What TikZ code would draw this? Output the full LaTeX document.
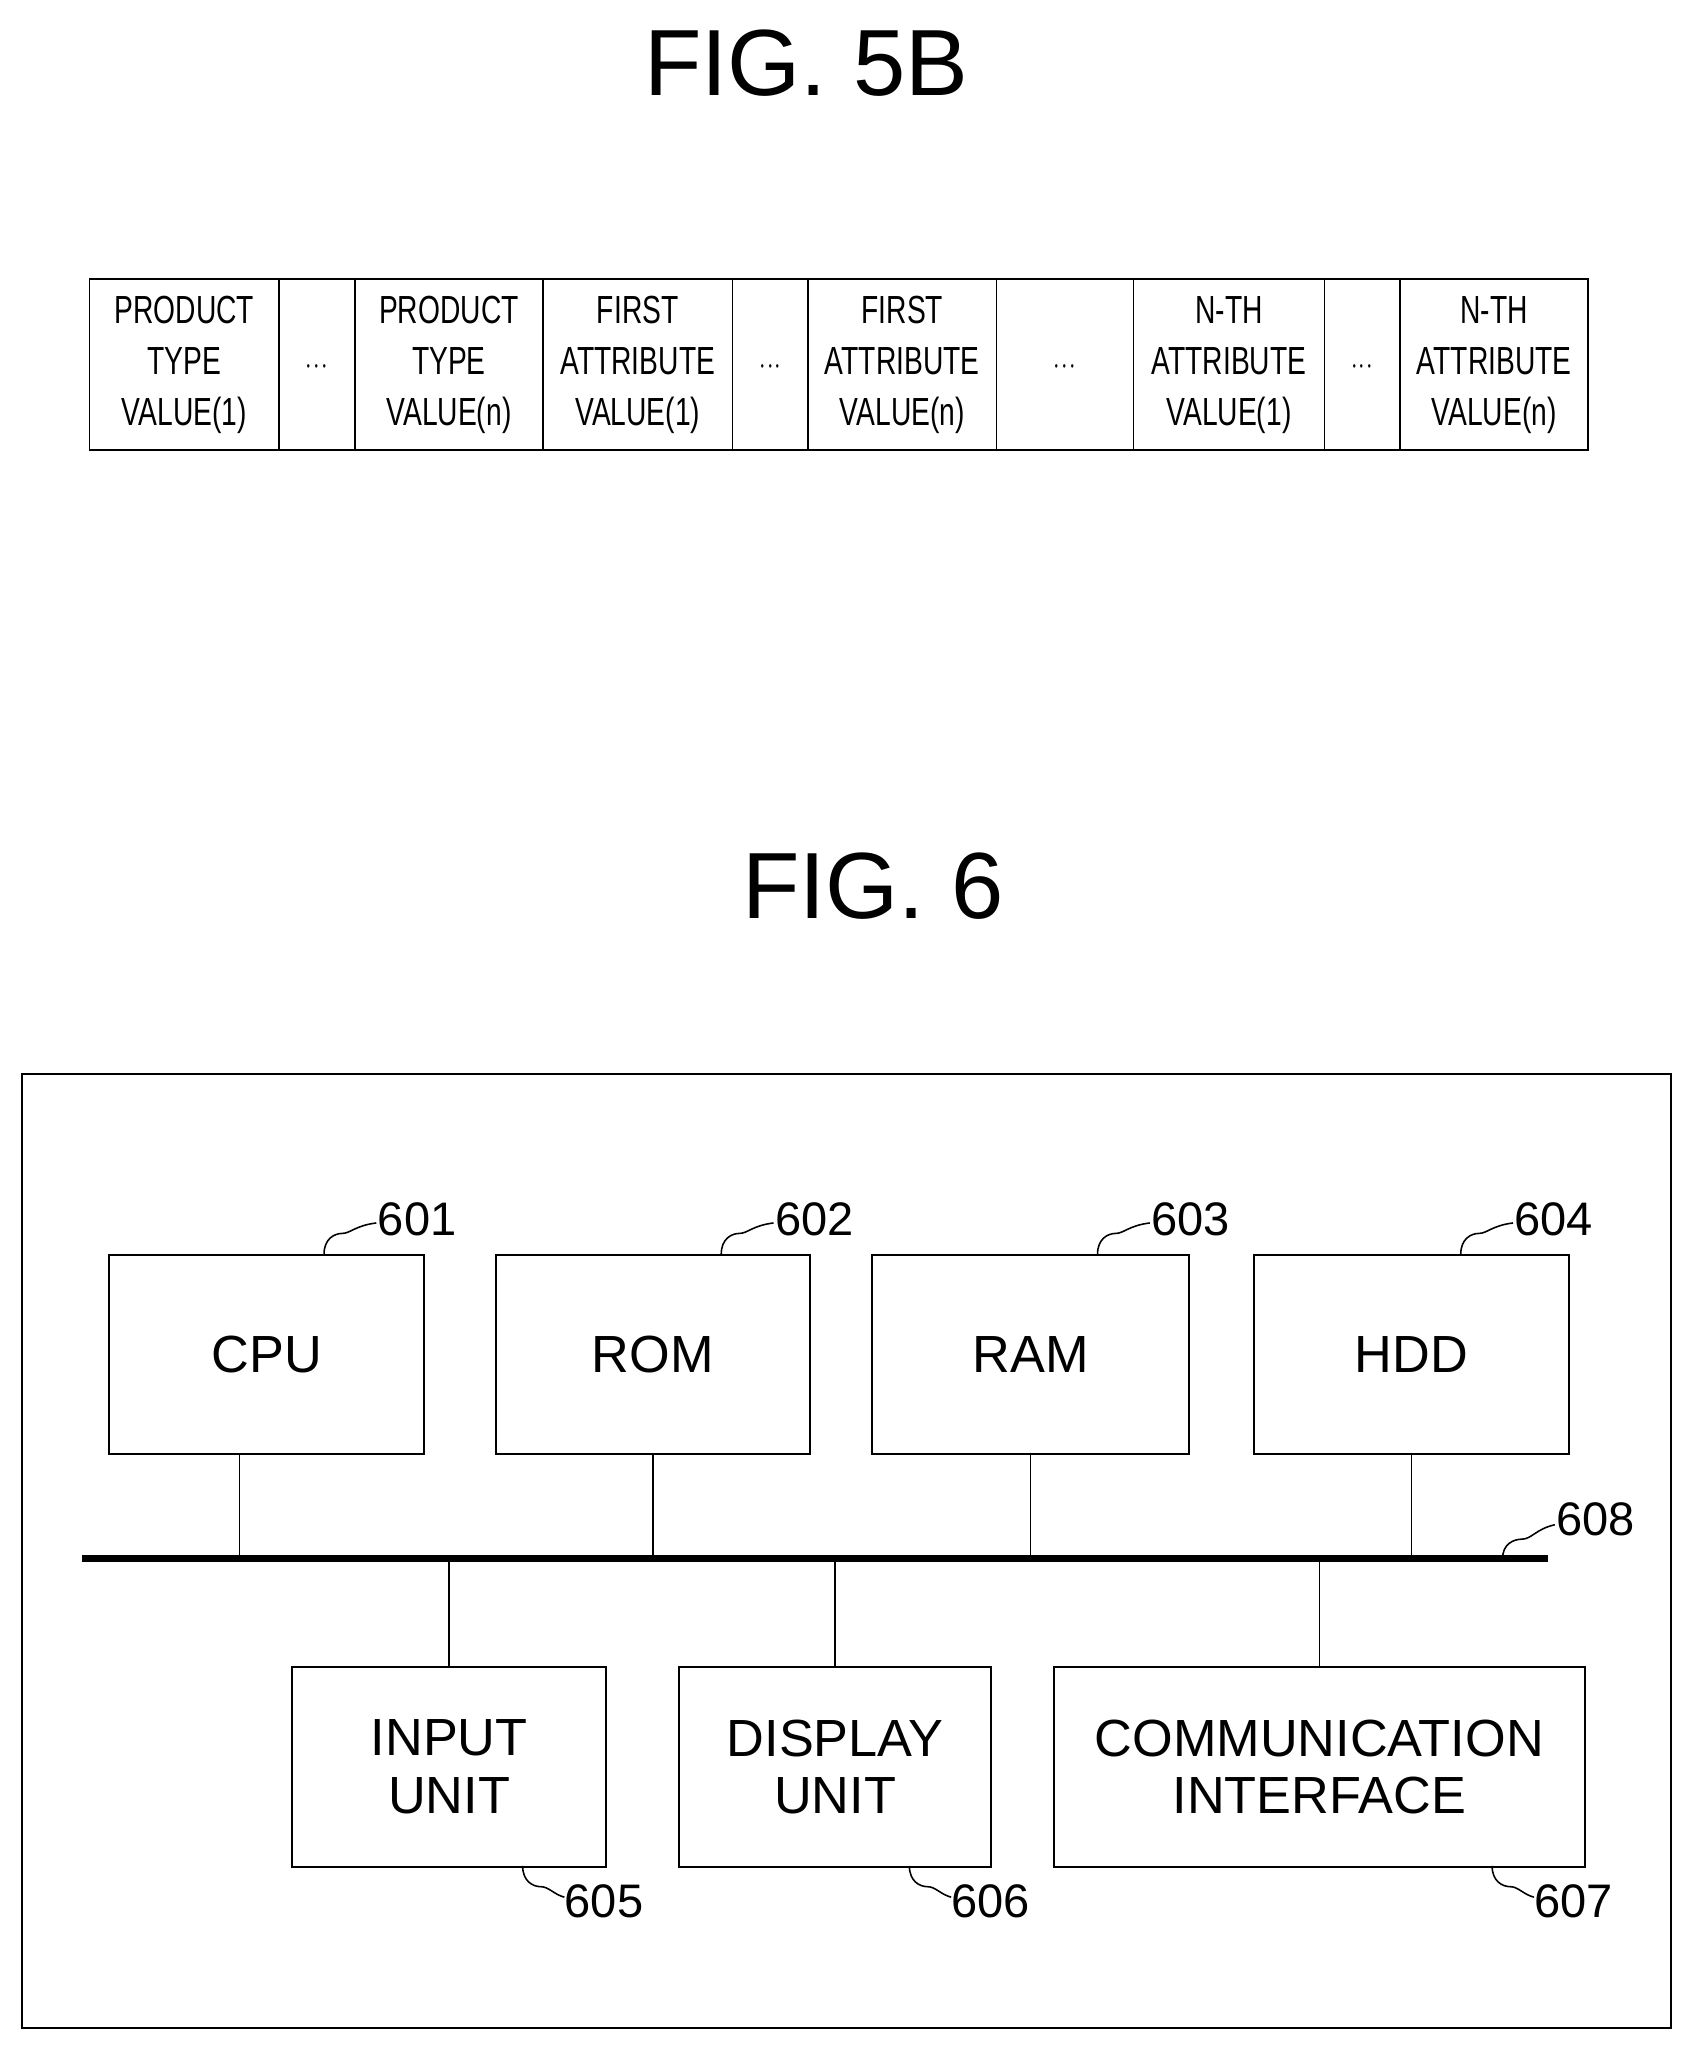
\documentclass[tikz,border=0pt]{standalone}
\usepackage{fontspec}
\setmainfont{Liberation Sans}
\usepackage{graphicx}
\begin{document}
\begin{tikzpicture}[x=1pt,y=-1pt,
 cell/.style={draw,line width=1.2pt,minimum height=131pt,inner sep=0pt,anchor=north west,align=center,font=\fontsize{30}{39}\selectfont},
 blk/.style={draw,line width=1.5pt,inner sep=0pt,anchor=north west,align=center,font=\fontsize{40}{44}\selectfont},
 wire/.style={line width=1.2pt},
 sq/.style={line width=1.2pt},
 lbl/.style={font=\fontsize{36}{40}\selectfont,anchor=west,inner sep=1pt}]
\useasboundingbox (0,0) rectangle (1296,1569);
\node[font=\fontsize{72}{72}\selectfont] (t5) at (617,48) {FIG. 5B};
\node[font=\fontsize{72}{72}\selectfont] (t6) at (668,678) {FIG. 6};
% table
\def\cellT#1#2#3#4{\node[cell,minimum width=#3pt] (#1) at (#2,213) {\scalebox{0.72}[1]{\begin{tabular}{@{}c@{}}#4\end{tabular}}};}
\cellT{c1}{68}{145}{PRODUCT\\TYPE\\VALUE(1)}
\cellT{c2}{213}{58}{$\cdot\!\cdot\!\cdot$}
\cellT{c3}{271}{144}{PRODUCT\\TYPE\\VALUE(n)}
\cellT{c4}{415}{145}{FIRST\\ATTRIBUTE\\VALUE(1)}
\cellT{c5}{560}{58}{$\cdot\!\cdot\!\cdot$}
\cellT{c6}{618}{144}{FIRST\\ATTRIBUTE\\VALUE(n)}
\cellT{c7}{762}{105}{$\cdot\!\cdot\!\cdot$}
\cellT{c8}{867}{146}{N-TH\\ATTRIBUTE\\VALUE(1)}
\cellT{c9}{1013}{58}{$\cdot\!\cdot\!\cdot$}
\cellT{c10}{1071}{144}{N-TH\\ATTRIBUTE\\VALUE(n)}
% fig 6
\draw[line width=1.5pt] (17,822) rectangle (1279,1552);
\node[blk,minimum width=241pt,minimum height=152pt] (cpu) at (83,960) {CPU};
\node[blk,minimum width=240pt,minimum height=152pt] (rom) at (379,960) {ROM};
\node[blk,minimum width=242pt,minimum height=152pt] (ram) at (667,960) {RAM};
\node[blk,minimum width=241pt,minimum height=152pt] (hdd) at (959,960) {HDD};
\node[blk,minimum width=240pt,minimum height=153pt] (inp) at (223,1275) {INPUT\\UNIT};
\node[blk,minimum width=239pt,minimum height=153pt] (dsp) at (519,1275) {DISPLAY\\UNIT};
\node[blk,minimum width=406pt,minimum height=153pt] (com) at (806,1275) {COMMUNICATION\\INTERFACE};
\coordinate (bl) at (63,1193); \coordinate (br) at (1185,1193);
\draw[line width=5pt] (bl) -- (br);
\draw[wire] (cpu.south) ++(-21,0) -- ++(0,81);
\draw[wire] (rom.south) -- ++(0,81);
\draw[wire] (ram.south) -- ++(0,81);
\draw[wire] (hdd.south) -- ++(0,81);
\draw[wire] (inp.north) -- ++(0,-82);
\draw[wire] (dsp.north) -- ++(0,-82);
\draw[wire] (com.north) -- ++(0,-82);
% labels
\foreach \n/\x/\t in {cpu/248/601,rom/552/602,ram/840/603,hdd/1118/604}{
 \draw[sq] (\x,960) .. controls (\x,948) and (\x+8,944) .. (\x+14,944) .. controls (\x+20,944) and (\x+24,938) .. (\x+40,936);
 \node[lbl] at (\x+40,933) {\t};}
\draw[sq] (1150,1193) .. controls (1150,1182) and (1158,1178) .. (1165,1178) .. controls (1172,1178) and (1176,1170) .. (1190,1167);
\node[lbl] at (1190,1163) {608};
\foreach \x/\t in {400/605,696/606,1142/607}{
 \draw[sq] (\x,1428) .. controls (\x,1440) and (\x+8,1444) .. (\x+14,1444) .. controls (\x+20,1444) and (\x+24,1450) .. (\x+32,1452);
 \node[lbl] at (\x+31,1455) {\t};}
\end{tikzpicture}
\end{document}
